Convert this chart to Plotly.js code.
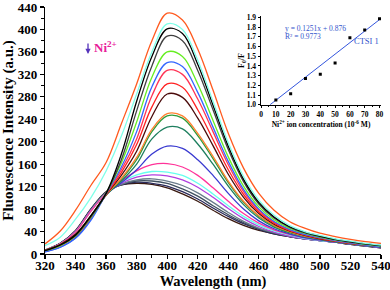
<!DOCTYPE html>
<html><head><meta charset="utf-8">
<script src="https://cdn.plot.ly/plotly-3.0.1.min.js"></script>
<style>html,body{margin:0;padding:0;background:#fff}#chart{width:390px;height:290px}</style>
</head><body><div id="chart"></div>
<script>
const wavelengths = [320,330,340,350,360,370,380,390,400,410,420,430,440,450,460,470,480,490,500,510,520,530,540];

const s01 = [18,41,78,122,163,232,303,380,429,417,365,292,215,153,108,78,58,46,37,31,26,22,19];
const s02 = [15,30,62,100,148,210,285,360,410,400,345,272,198,138,96,69,51,40,33,27,23,19,16];
const s03 = [6,16,34,68,108,178,272,352,401,393,338,265,192,133,92,66,49,39,32,26,22,18,15];
const s04 = [6,16,33,66,108,168,255,335,388,380,327,257,186,129,89,64,48,38,31,26,21,18,15];
const s05 = [6,15,32,65,108,162,235,315,360,352,303,238,173,121,84,61,46,37,30,25,21,17,14];
const s06 = [4,12,28,60,107,155,218,298,341,334,288,226,165,115,80,58,44,35,29,24,20,16,13];
const s07 = [6,15,32,64,107,150,205,282,327,320,276,218,159,111,78,57,43,35,29,24,20,17,14];
const s08 = [6,15,32,64,106,145,195,262,303,297,257,204,150,106,75,55,42,34,28,23,19,16,13];
const s09 = [7,17,35,68,106,140,183,245,285,279,242,193,142,101,72,53,41,33,27,23,19,16,13];
const s10 = [7,17,35,68,105,135,172,222,250,246,215,174,130,94,68,51,40,32,27,23,19,16,14];
const s11 = [6,16,34,67,105,133,168,218,246,242,211,170,127,92,67,50,39,32,27,22,19,16,13];
const s12 = [6,16,34,67,105,130,160,205,226,223,196,160,121,88,64,48,38,31,26,22,18,15,13];
const s13 = [4,12,29,62,105,127,150,178,192,188,168,140,108,80,59,45,36,29,25,21,18,15,12];
const s14 = [7,18,39,76,108,130,148,159,161,155,140,118,94,72,55,43,35,29,25,21,18,15,12];
const s15 = [7,18,39,76,108,128,141,147,146,140,126,107,86,67,52,41,34,28,24,21,18,15,12];
const s16 = [7,18,40,77,108,126,137,141,139,132,119,101,81,63,49,39,32,27,24,21,18,15,12];
const s17 = [7,18,40,78,109,124,132,134,130,122,109,92,74,58,46,38,32,27,24,21,18,15,12];
const s18 = [7,19,41,79,110,124,130,130,126,116,103,86,70,56,45,37,31,27,24,21,18,15,12];
const s19 = [7,19,41,80,110,123,128,126,121,111,98,82,67,54,44,36,31,27,24,21,17,14,11];
const s20 = [6,19,42,80,111,123,126,124,118,107,94,78,63,51,42,36,31,27,24,21,17,14,11];

const seriesList = [s01,s02,s03,s04,s05,s06,s07,s08,s09,s10,s11,s12,s13,s14,s15,s16,s17,s18,s19,s20];
const seriesColors = ['#FF5A1F','#7FFFE8','#000000','#404040','#66EE22','#3366FF','#FF3355','#FF2222','#4A0A0A','#FF8030',
  '#2E9B3A','#1E7F5F','#3A3AD0','#FF3399','#66FFEE','#B040E0','#6A7C8C','#3F5060','#2A2A5A','#3A1A10'];

const xTicks = [320,340,360,380,400,420,440,460,480,500,520,540];
const yTicks = [0,40,80,120,160,200,240,280,320,360,400,440];

// inset data
const concentration = [10,20,30,40,50,60,70,80];
const ratioF0F = [1.05,1.115,1.27,1.315,1.43,1.69,1.77,1.885];
const fitX = [6,80];
const fitY = [1.0,1.877];
const insetXTicks = [0,10,20,30,40,50,60,70,80];
const insetYTicks = [1.0,1.1,1.2,1.3,1.4,1.5,1.6,1.7,1.8,1.9];

const FONT = 'Liberation Serif, Times New Roman, serif';
const traces = [];
for (let i = seriesList.length - 1; i >= 0; i--) {
  traces.push({x: wavelengths, y: seriesList[i], type:'scatter', mode:'lines',
    line:{color: seriesColors[i], width:1.3, shape:'spline', smoothing:1}, hoverinfo:'skip', cliponaxis:false});
}
traces.push({x: fitX, y: fitY, xaxis:'x2', yaxis:'y2', type:'scatter', mode:'lines',
  line:{color:'#3355DD', width:1}});
traces.push({x: concentration, y: ratioF0F, xaxis:'x2', yaxis:'y2', type:'scatter', mode:'markers',
  marker:{color:'#000', size:3, symbol:'square'}});

const axisCommon = {showline:true, linecolor:'#000', linewidth:1.2, ticks:'outside', tickcolor:'#000',
  showgrid:false, zeroline:false, mirror:false, ticklabeloverflow:'allow'};

const layout = {
  width:390, height:290, margin:{l:45, r:9, t:7, b:36},
  paper_bgcolor:'#fff', plot_bgcolor:'rgba(0,0,0,0)', showlegend:false,
  font:{family:FONT, color:'#000'},
  xaxis: Object.assign({}, axisCommon, {range:[320,540], tickvals:xTicks, ticktext:xTicks.map(String), ticklen:4, tickwidth:1.2,
    minor:{ticks:'outside', dtick:10, ticklen:2.5, tickcolor:'#000', tickwidth:1},
    ticklabelstandoff:-5,
    tickfont:{family:FONT, size:13, color:'#000', weight:'bold'},
    title:{text:'<b>Wavelength (nm)</b>', font:{family:FONT, size:14.5, color:'#000'}, standoff:2}}),
  yaxis: Object.assign({}, axisCommon, {range:[0,440], tickvals:yTicks, ticktext:yTicks.map(String), ticklen:4, tickwidth:1.2,
    minor:{ticks:'outside', dtick:20, ticklen:2.5, tickcolor:'#000', tickwidth:1},
    tickfont:{family:FONT, size:13, color:'#000', weight:'bold'},
    title:{text:'<b>Fluorescence Intensity (a.u.)</b>', font:{family:FONT, size:15, color:'#000'}, standoff:4}}),
  xaxis2: Object.assign({}, axisCommon, {domain:[0.643,1.0], anchor:'y2', range:[0,81],
    tickvals: insetXTicks, ticklen:2.5, tickwidth:1, linewidth:1,
    minor:{ticks:'outside', dtick:5, ticklen:1.5, tickcolor:'#000'},
    tickfont:{family:FONT, size:7.5, color:'#000', weight:'bold'},
    title:{text:'<b>Ni<sup>2+</sup> ion concentration (10<sup>-6</sup> M)</b>', font:{family:FONT, size:7.5, color:'#000'}, standoff:1}}),
  yaxis2: Object.assign({}, axisCommon, {domain:[0.604,0.962], anchor:'x2', range:[1.0,1.91],
    tickvals: insetYTicks, ticktext: insetYTicks.map(v=>v.toFixed(1)), ticklen:2.5, tickwidth:1, linewidth:1,
    tickfont:{family:FONT, size:7.5, color:'#000', weight:'bold'},
    title:{text:'<b>F<sub>0</sub>/F</b>', font:{family:FONT, size:8, color:'#000'}, standoff:0}}),
  annotations:[
    {xref:'x2', yref:'y2', x:14.5, y:1.785, xanchor:'left', yanchor:'middle', showarrow:false,
      text:'y = 0.1251x + 0.876', font:{family:FONT, size:7.5, color:'#3355CC'}},
    {xref:'x2', yref:'y2', x:14.5, y:1.705, xanchor:'left', yanchor:'middle', showarrow:false,
      text:'R² = 0.9773', font:{family:FONT, size:7.5, color:'#3355CC'}},
    {xref:'x2', yref:'y2', x:81, y:1.655, xanchor:'right', yanchor:'middle', showarrow:false,
      text:'CTSI 1', font:{family:FONT, size:8.5, color:'#3355CC'}},
    {xref:'paper', yref:'paper', x:0.14, y:0.838, xanchor:'left', yanchor:'middle', showarrow:false,
      text:'<b>Ni<sup>2+</sup></b>', font:{family:FONT, size:13, color:'#E8209A'}},
    {xref:'paper', yref:'paper', x:0.128, y:0.81, ax:0, ay:-12, axref:'pixel', ayref:'pixel', showarrow:true,
      text:'', arrowhead:2, arrowsize:0.8, arrowwidth:1.3, arrowcolor:'#5533BB'}
  ]
};

Plotly.newPlot('chart', traces, layout, {staticPlot:true, displayModeBar:false});
</script>
</body></html>
